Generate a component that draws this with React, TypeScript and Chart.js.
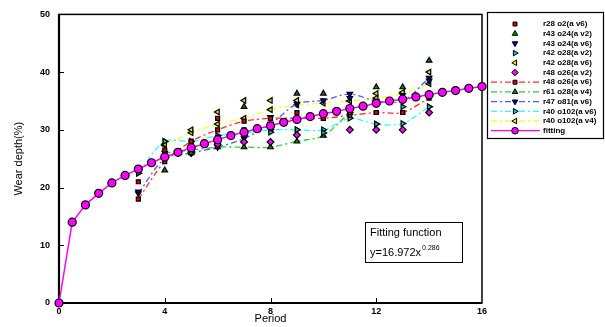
import React, { useEffect, useRef } from 'react';
import { Chart, registerables } from 'chart.js';
import { drawPoint } from 'chart.js/helpers';

Chart.register(...registerables);

// ---------- data ----------
const xTicks = [0, 4, 8, 12, 16];
const yTicks = [0, 10, 20, 30, 40, 50];

const fitX = [0, 0.5, 1, 1.5, 2, 2.5, 3, 3.5, 4, 4.5, 5, 5.5, 6, 6.5, 7, 7.5, 8, 8.5, 9, 9.5, 10, 10.5, 11, 11.5, 12, 12.5, 13, 13.5, 14, 14.5, 15, 15.5, 16];
const fitY = [0, 14, 17, 19, 20.8, 22.1, 23.2, 24.3, 25.3, 26.1, 26.9, 27.6, 28.3, 29.0, 29.6, 30.2, 30.7, 31.3, 31.8, 32.3, 32.8, 33.2, 33.7, 34.1, 34.6, 35.0, 35.3, 35.7, 36.1, 36.5, 36.8, 37.2, 37.5];

const r28o2v6X = [3, 4, 5, 6, 7, 8, 9, 10, 12, 13];
const r28o2v6Y = [21, 26.5, 28, 32, 30, 32, 33, 32, 33, 33];

const r43o24v2X = [4, 5, 7, 9, 10, 12, 13, 14];
const r43o24v2Y = [23, 26, 34, 36.3, 36.3, 37.4, 37.4, 42];

const r43o24v6X = [3, 4, 8, 11, 13, 14];
const r43o24v6Y = [19.3, 26, 32.2, 35.5, 36, 38.5];

const r42o28v2X = [3, 4, 6, 7, 8, 9, 10, 11, 12, 13, 14];
const r42o28v2Y = [22.5, 28, 28.5, 29, 29.6, 30, 29.5, 33, 31, 34, 34];

const r42o28v6X = [4, 5, 6, 7, 8, 9, 11, 12, 13, 14];
const r42o28v6Y = [27.5, 30, 33.1, 35.1, 35.1, 35.1, 35, 36.3, 36.5, 40];

const r48o26v2X = [5, 6, 7, 8, 9, 11, 12, 13, 14];
const r48o26v2Y = [26, 27.5, 27.9, 27.9, 29.1, 30, 30, 30, 33];

const r48o26v6X = [3, 4, 5, 6, 7, 8, 9, 10, 11, 12, 13, 14];
const r48o26v6Y = [18, 24.5, 28, 30, 31.5, 32, 32, 32, 32.5, 33, 33, 35.5];

const r61o28v4X = [4, 5, 6, 7, 8, 9, 10, 11];
const r61o28v4Y = [26, 26.5, 27, 27, 27, 28, 29, 33];

const r47o81v6X = [3, 4, 5, 6, 7, 8, 9, 10, 11, 12, 13, 14];
const r47o81v6Y = [19, 25, 26, 27, 28.5, 31, 34.5, 35.1, 36.2, 35, 35, 39];

const r40o102v6X = [3, 4, 5, 6, 7, 8, 9, 10, 11, 12, 13, 14];
const r40o102v6Y = [22.5, 28, 28, 29, 29.5, 30, 30, 30, 32, 31, 31.1, 34];

const r40o102v4X = [4, 5, 6, 7, 8, 9, 10, 11, 12, 13, 14];
const r40o102v4Y = [27.3, 29.5, 31, 32, 33.5, 34.3, 34.6, 35, 35.5, 36.3, 38];

const seriesLabels = [
  'r28 o2(a v6)',
  'r43 o24(a v2)',
  'r43 o24(a v6)',
  'r42 o28(a v2)',
  'r42 o28(a v6)',
  'r48 o26(a v2)',
  'r48 o26(a v6)',
  'r61 o28(a v4)',
  'r47 o81(a v6)',
  'r40 o102(a v6)',
  'r40 o102(a v4)',
  'fitting',
];

const pts = (xs: number[], ys: number[]) => xs.map((x, i) => ({ x, y: ys[i] }));

type Style = {
  data: { x: number; y: number }[];
  marker: string;
  pointStyle: string;
  rotation: number;
  line: string | null;
  dash: number[];
  radius: number;
};

const styles: Style[] = [
  { data: pts(r28o2v6X, r28o2v6Y), marker: '#d40000', pointStyle: 'rect', rotation: 0, line: null, dash: [], radius: 2.8 },
  { data: pts(r43o24v2X, r43o24v2Y), marker: '#008a00', pointStyle: 'triangle', rotation: 0, line: null, dash: [], radius: 3.2 },
  { data: pts(r43o24v6X, r43o24v6Y), marker: '#0000d0', pointStyle: 'triangle', rotation: 180, line: null, dash: [], radius: 3.2 },
  { data: pts(r42o28v2X, r42o28v2Y), marker: '#00c8c8', pointStyle: 'triangle', rotation: 90, line: null, dash: [], radius: 3.2 },
  { data: pts(r42o28v6X, r42o28v6Y), marker: '#e8e800', pointStyle: 'triangle', rotation: 270, line: null, dash: [], radius: 3.2 },
  { data: pts(r48o26v2X, r48o26v2Y), marker: '#ff00ff', pointStyle: 'rectRot', rotation: 0, line: null, dash: [], radius: 3.4 },
  { data: pts(r48o26v6X, r48o26v6Y), marker: '#d40000', pointStyle: 'rect', rotation: 0, line: '#ff3030', dash: [6, 3, 2, 3], radius: 2.8 },
  { data: pts(r61o28v4X, r61o28v4Y), marker: '#008a00', pointStyle: 'triangle', rotation: 0, line: '#33cc33', dash: [6, 3, 2, 3], radius: 3.2 },
  { data: pts(r47o81v6X, r47o81v6Y), marker: '#0000d0', pointStyle: 'triangle', rotation: 180, line: '#4a5cff', dash: [6, 3, 2, 3], radius: 3.2 },
  { data: pts(r40o102v6X, r40o102v6Y), marker: '#00c8c8', pointStyle: 'triangle', rotation: 90, line: '#30ffff', dash: [6, 3, 2, 3], radius: 3.2 },
  { data: pts(r40o102v4X, r40o102v4Y), marker: '#e8e800', pointStyle: 'triangle', rotation: 270, line: '#ffff30', dash: [6, 3, 2, 3], radius: 3.2 },
  { data: pts(fitX, fitY), marker: '#ff00ff', pointStyle: 'circle', rotation: 0, line: '#ff00ff', dash: [], radius: 4 },
];

const FONT = "'Liberation Sans', Arial, sans-serif";

const framePlugin = {
  id: 'frame',
  beforeDatasetsDraw(chart: any) {
    const { ctx, chartArea: a } = chart;
    const xs = chart.scales.x;
    const ys = chart.scales.y;
    ctx.save();
    ctx.strokeStyle = '#000';
    ctx.lineWidth = 1.5;
    ctx.strokeRect(a.left, a.top, a.right - a.left, a.bottom - a.top);
    ctx.lineWidth = 2.2;
    ctx.beginPath();
    ctx.moveTo(a.left, a.top);
    ctx.lineTo(a.left, a.bottom);
    ctx.lineTo(a.right, a.bottom);
    ctx.stroke();
    ctx.lineWidth = 1;
    ctx.beginPath();
    for (const t of xTicks) {
      if (t === 0 || t === 16) continue;
      const px = Math.round(xs.getPixelForValue(t)) + 0.5;
      ctx.moveTo(px, a.bottom);
      ctx.lineTo(px, a.bottom - 5);
    }
    for (const t of yTicks) {
      if (t === 0 || t === 50) continue;
      const py = Math.round(ys.getPixelForValue(t)) + 0.5;
      ctx.moveTo(a.left, py);
      ctx.lineTo(a.left + 5, py);
    }
    ctx.stroke();
    ctx.restore();
  },
  afterDraw(chart: any) {
    const { ctx } = chart;
    ctx.save();
    // fitting function annotation
    ctx.strokeStyle = '#000';
    ctx.lineWidth = 1;
    ctx.strokeRect(365.5, 222.5, 97, 40);
    ctx.fillStyle = '#000';
    ctx.textBaseline = 'middle';
    ctx.textAlign = 'left';
    ctx.font = `11px ${FONT}`;
    ctx.fillText('Fitting function', 370, 233);
    const base = 'y=16.972x';
    ctx.fillText(base, 370, 253);
    const w = ctx.measureText(base).width;
    ctx.font = `7px ${FONT}`;
    ctx.fillText('0.286', 370 + w + 1, 248);

    // legend
    const lx = 487, ly = 12, lw = 116, lh = 126;
    ctx.fillStyle = '#fff';
    ctx.fillRect(lx, ly, lw, lh);
    ctx.strokeStyle = '#000';
    ctx.lineWidth = 1.2;
    ctx.strokeRect(lx + 0.5, ly + 0.5, lw, lh);
    const rowH = 9.7;
    styles.forEach((s, i) => {
      const cy = ly + 12 + i * rowH;
      const cx = 515;
      if (s.line) {
        ctx.save();
        ctx.strokeStyle = s.line;
        ctx.lineWidth = 1.3;
        ctx.setLineDash(s.dash);
        ctx.beginPath();
        ctx.moveTo(491, cy);
        ctx.lineTo(540, cy);
        ctx.stroke();
        ctx.restore();
      }
      ctx.save();
      ctx.fillStyle = s.marker;
      ctx.strokeStyle = '#000';
      ctx.lineWidth = 1;
      drawPoint(ctx, { pointStyle: s.pointStyle as any, rotation: s.rotation, radius: Math.min(s.radius, 3.3), borderWidth: 1 }, cx, cy);
      ctx.restore();
      ctx.fillStyle = '#000';
      ctx.font = `bold 8px ${FONT}`;
      ctx.textBaseline = 'middle';
      ctx.textAlign = 'left';
      ctx.fillText(seriesLabels[i], 543, cy);
    });
    ctx.restore();
  },
};

export default function App() {
  const ref = useRef<HTMLCanvasElement | null>(null);
  useEffect(() => {
    document.body.style.margin = '0';
    const canvas = ref.current!;
    const datasets: any[] = styles.map((s, i) => ({
      label: seriesLabels[i],
      data: s.data,
      showLine: !!s.line,
      borderColor: s.line || s.marker,
      borderWidth: s.line ? (i === 11 ? 1.5 : 1.3) : 0,
      borderDash: s.dash,
      tension: i === 11 ? 0 : 0.3,
      pointStyle: s.pointStyle,
      pointRotation: s.rotation,
      pointRadius: s.radius,
      pointBackgroundColor: s.marker,
      pointBorderColor: '#000',
      pointBorderWidth: 1.2,
      clip: false,
      order: i === 11 ? -1 : 0,
    }));
    const chart = new Chart(canvas, {
      type: 'scatter',
      data: { datasets },
      plugins: [framePlugin],
      options: {
        animation: false,
        responsive: false,
        maintainAspectRatio: false,
        layout: { padding: { left: 0, top: 14, right: 123, bottom: 0 } },
        plugins: { legend: { display: false }, tooltip: { enabled: false } },
        scales: {
          x: {
            type: 'linear',
            min: 0,
            max: 16,
            afterFit: (s: any) => { s.height = 24; },
            afterBuildTicks: (s: any) => { s.ticks = xTicks.map((v) => ({ value: v })); },
            grid: { display: false, drawTicks: false },
            border: { display: false },
            ticks: { color: '#000', padding: 3, font: { size: 9, weight: 'bold', family: FONT }, maxRotation: 0, autoSkip: false },
            title: { display: true, text: 'Period', color: '#000', font: { size: 11, family: FONT }, padding: { top: 0, bottom: 1 } },
          },
          y: {
            type: 'linear',
            min: 0,
            max: 50,
            afterFit: (s: any) => { s.width = 59; },
            afterBuildTicks: (s: any) => { s.ticks = yTicks.map((v) => ({ value: v })); },
            grid: { display: false, drawTicks: false },
            border: { display: false },
            ticks: { color: '#000', padding: 9, font: { size: 9, weight: 'bold', family: FONT }, autoSkip: false },
            title: { display: true, text: 'Wear depth(%)', color: '#000', font: { size: 11, family: FONT }, padding: { top: 12, bottom: 0 } },
          },
        },
      } as any,
    });
    return () => chart.destroy();
  }, []);
  return (
    <div style={{ position: 'fixed', left: 0, top: 0, width: 605, height: 327, background: '#fff' }}>
      <canvas ref={ref} width={605} height={327} style={{ width: 605, height: 327, display: 'block' }} />
    </div>
  );
}
